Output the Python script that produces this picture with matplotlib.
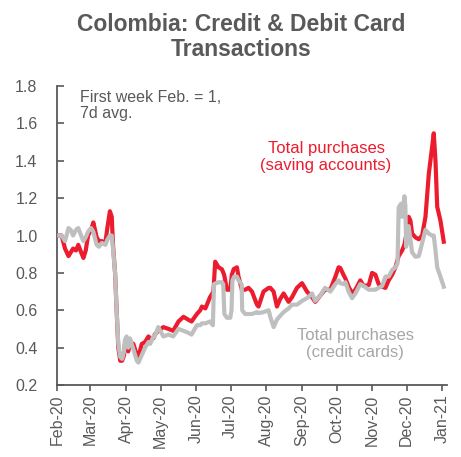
import matplotlib
matplotlib.use("Agg")
import matplotlib.pyplot as plt
import pandas as pd

plt.rcParams['font.family'] = ['Liberation Sans', 'DejaVu Sans']

START = pd.Timestamp('2020-02-01')

# Days since 1 Feb 2020 and index values (first week Feb = 1, 7d avg)
red_days = [2, 4, 7, 10, 12, 14, 16.5, 18.5, 21, 23, 25, 27, 29.6, 31.6, 34.5, 36.5, 39, 42, 44, 46,
            47.6, 48.7, 50.5, 52, 53.3, 55, 56.6, 58.3, 59, 62, 63.5, 66.4, 69.4, 70.8, 73.7, 76.6,
            79.5, 81, 83.8, 85, 88, 92.5, 97, 101, 105.6, 110, 114, 117, 121.6, 124.5, 126, 129, 133,
            136, 137.5, 140.4, 143.3, 145.3, 147.7, 150.6, 152, 153.6, 156.4, 157.8, 160.7, 163.6,
            166.5, 169.5, 173.8, 175.2, 179.5, 184, 185.4, 188.3, 191.2, 194, 197, 201.3, 204.3,
            208.6, 213, 217.3, 221.7, 224.5, 229, 233, 237.6, 242, 244.8, 246.3, 249, 250.7, 253.5,
            256.5, 259.4, 263.7, 266.6, 271, 273.9, 276.8, 279.6, 282.6, 285.5, 288.3, 291.3, 294.2,
            297, 300, 302, 303.5, 305.7, 307.2, 308.7, 311.6, 314.5, 317.4, 320.3, 323.2, 326.1,
            327.5, 329, 330.5, 333.3, 336.2]
red_vals = [1.00, 1.00, 0.93, 0.89, 0.91, 0.93, 0.92, 0.95, 0.91, 0.88, 0.92, 1.00, 1.03, 1.07, 0.99,
            0.97, 0.97, 0.96, 1.05, 1.13, 1.10, 0.95, 0.80, 0.58, 0.40, 0.33, 0.33, 0.36, 0.42, 0.38,
            0.43, 0.42, 0.36, 0.35, 0.42, 0.43, 0.46, 0.45, 0.45, 0.47, 0.49, 0.51, 0.50, 0.49, 0.54,
            0.565, 0.55, 0.54, 0.58, 0.60, 0.62, 0.61, 0.67, 0.70, 0.86, 0.83, 0.82, 0.79, 0.71, 0.71,
            0.79, 0.82, 0.83, 0.78, 0.71, 0.71, 0.72, 0.70, 0.63, 0.62, 0.70, 0.72, 0.72, 0.70, 0.62,
            0.66, 0.69, 0.645, 0.67, 0.72, 0.745, 0.70, 0.67, 0.645, 0.68, 0.71, 0.71, 0.78, 0.83,
            0.826, 0.79, 0.77, 0.726, 0.69, 0.71, 0.76, 0.73, 0.735, 0.80, 0.79, 0.74, 0.726, 0.72,
            0.76, 0.79, 0.83, 0.89, 0.92, 0.95, 1.00, 1.10, 1.08, 1.01, 0.99, 0.98, 1.00, 1.10, 1.33,
            1.475, 1.547, 1.40, 1.154, 1.08, 0.967]

gray_days = [2, 4, 7, 10, 12, 14, 16.5, 18.5, 21, 23, 25, 27, 29.6, 31.6, 34.5, 36.5, 39, 42, 44, 46,
             47.6, 48.7, 50.5, 52, 53.3, 55, 56.6, 58.3, 59, 60.5, 62, 63.5, 66.4, 69.4, 70.8, 73.7,
             76.6, 79.5, 81, 83.8, 85, 88, 92.5, 97, 101, 105.6, 110, 114, 117, 121.6, 124.5, 126,
             129, 133, 135.5, 136.5, 140.4, 143.3, 144.5, 145.5, 147.7, 150.6, 151.7, 152.5, 154,
             156.4, 157.8, 160.5, 161, 163.6, 166.5, 169.5, 173.8, 175.2, 179.5, 184, 185.4, 188.3,
             191.2, 194, 197, 201.3, 204.3, 208.6, 213, 217.3, 221.7, 224.5, 229, 233, 237.6, 242,
             244.8, 246.3, 249, 250.7, 253.5, 256.5, 259.4, 263.7, 266.6, 271, 273.9, 276.8, 279.6,
             282.6, 285.5, 288.3, 291.3, 294.2, 296, 297, 299, 300, 302, 302.8, 303.5, 305.7, 307.2,
             308.7, 311.6, 314.5, 317.4, 320.3, 323.2, 326.1, 327.5, 329, 330.5, 333.3, 336.2]
gray_vals = [1.00, 1.00, 0.97, 1.04, 1.03, 1.00, 1.03, 1.04, 1.00, 0.97, 0.99, 1.02, 1.04, 1.02, 0.95,
             0.94, 0.96, 0.95, 0.98, 1.00, 1.00, 0.93, 0.80, 0.58, 0.42, 0.35, 0.34, 0.38, 0.44, 0.46,
             0.40, 0.45, 0.39, 0.33, 0.32, 0.36, 0.40, 0.43, 0.42, 0.46, 0.46, 0.51, 0.46, 0.47, 0.46,
             0.50, 0.49, 0.48, 0.47, 0.52, 0.52, 0.53, 0.53, 0.54, 0.52, 0.74, 0.75, 0.75, 0.74, 0.58,
             0.56, 0.56, 0.60, 0.76, 0.78, 0.78, 0.76, 0.74, 0.60, 0.58, 0.58, 0.58, 0.59, 0.585, 0.59,
             0.60, 0.565, 0.51, 0.55, 0.57, 0.59, 0.61, 0.63, 0.63, 0.65, 0.665, 0.69, 0.65, 0.68,
             0.72, 0.70, 0.74, 0.76, 0.745, 0.74, 0.75, 0.70, 0.665, 0.69, 0.74, 0.73, 0.71, 0.71,
             0.71, 0.72, 0.73, 0.78, 0.78, 0.815, 0.83, 0.85, 1.15, 1.17, 1.10, 1.21, 1.16, 0.94,
             1.05, 0.98, 0.91, 0.886, 0.89, 0.96, 1.03, 1.01, 1.00, 1.00, 0.92, 0.83, 0.78, 0.726]

tick_labels = ['Feb-20', 'Mar-20', 'Apr-20', 'May-20', 'Jun-20', 'Jul-20', 'Aug-20', 'Sep-20',
               'Oct-20', 'Nov-20', 'Dec-20', 'Jan-21']
y_ticks = [0.2, 0.4, 0.6, 0.8, 1.0, 1.2, 1.4, 1.6, 1.8]

RED = '#EC1C2E'
GRAY = '#BFBFBF'
TXT = '#595959'

red_dates = START + pd.to_timedelta(red_days, unit='D')
gray_dates = START + pd.to_timedelta(gray_days, unit='D')

fig = plt.figure(figsize=(4.61, 4.57), dpi=100)
ax = fig.add_axes([0.1236, 0.1575, 0.846, 0.6543])

ax.plot(red_dates, red_vals, color=RED, lw=3.0, solid_joinstyle='round', zorder=2)
ax.plot(gray_dates, gray_vals, color=GRAY, lw=3.0, solid_joinstyle='round', zorder=3)

ax.set_ylim(0.2, 1.8)
ax.set_yticks(y_ticks)
ax.set_yticklabels([f'{v:.1f}' for v in y_ticks])
ax.set_xlim(START, pd.Timestamp('2021-01-05'))
tick_dates = pd.date_range('2020-02-01', '2021-01-01', freq='MS')
ax.set_xticks(tick_dates)
ax.set_xticklabels(tick_labels, rotation=90)

for s in ['top', 'right']:
    ax.spines[s].set_visible(False)
for s in ['left', 'bottom']:
    ax.spines[s].set_color(TXT)
    ax.spines[s].set_linewidth(1.3)
ax.tick_params(axis='y', direction='in', length=5, width=1.2, color=TXT, labelcolor=TXT,
               labelsize=11.5, pad=14)
ax.tick_params(axis='x', direction='out', length=4, width=1.2, color=TXT, labelcolor=TXT,
               labelsize=11.5, pad=3)

fig.text(0.523, 0.972, 'Colombia: Credit & Debit Card\nTransactions', ha='center', va='top',
         fontsize=16.5, fontweight='bold', color=TXT, linespacing=1.15)

ax.text(0.058, 0.985, 'First week Feb. = 1,\n7d avg.', transform=ax.transAxes, ha='left', va='top',
        fontsize=11.5, color=TXT, linespacing=1.05)
ax.text(0.69, 0.815, 'Total purchases\n(saving accounts)', transform=ax.transAxes, ha='center',
        va='top', fontsize=12, color=RED, linespacing=1.1)
ax.text(0.765, 0.19, 'Total purchases\n(credit cards)', transform=ax.transAxes, ha='center',
        va='top', fontsize=12, color='#A6A6A6', linespacing=1.15)

fig.savefig('out.png', dpi=100)
